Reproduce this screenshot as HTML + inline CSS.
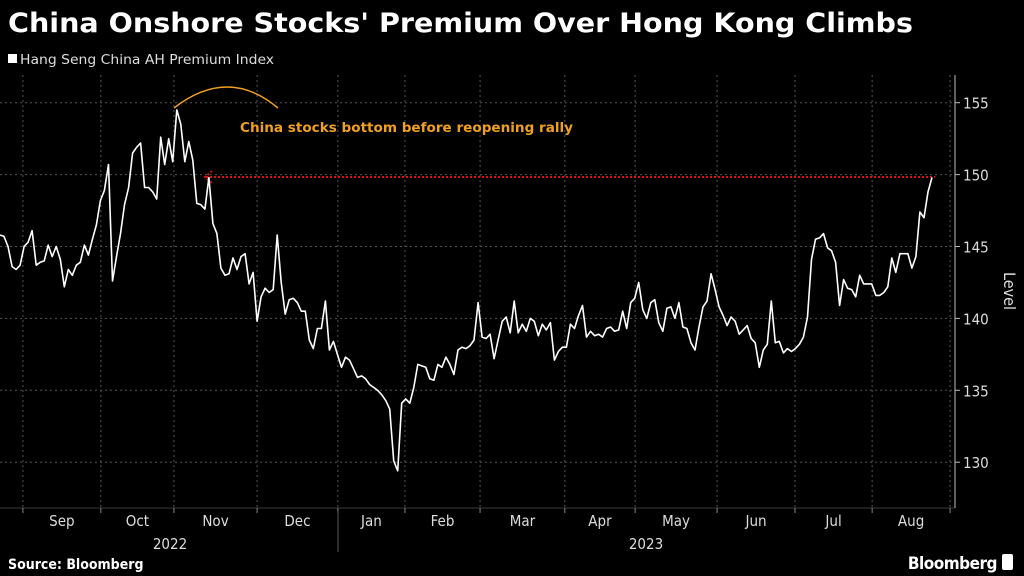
<!DOCTYPE html>
<html><head><meta charset="utf-8"><style>
html,body{margin:0;padding:0;background:#000;width:1024px;height:576px;overflow:hidden}
svg{display:block}
text{font-family:"DejaVu Sans Condensed","Liberation Sans",sans-serif}
</style></head><body>
<svg id="chart" width="1024" height="576">
<text x="8" y="32" fill="#fff" font-size="27" font-weight="bold" textLength="905" lengthAdjust="spacingAndGlyphs" font-family="DejaVu Sans, sans-serif">China Onshore Stocks' Premium Over Hong Kong Climbs</text>
<rect x="8" y="54" width="9" height="9" fill="#fff"/>
<text x="20" y="64" fill="#ddd" font-size="13" textLength="254" lengthAdjust="spacingAndGlyphs">Hang Seng China AH Premium Index</text>
<g id="grid"></g>
<line x1="955" y1="75" x2="955" y2="508" stroke="#bbb"/>
<line x1="0" y1="508" x2="955" y2="508" stroke="#777" stroke-width="0.6"/>
<g id="yticks"></g>
<text transform="translate(1004,291) rotate(90)" fill="#ddd" font-size="16" text-anchor="middle">Level</text>
<g id="xticks"></g>
<line x1="338" y1="511" x2="338" y2="552" stroke="#555"/>
<text x="170" y="549" fill="#ddd" font-size="15" text-anchor="middle">2022</text>
<text x="646" y="549" fill="#ddd" font-size="15" text-anchor="middle">2023</text>
<path d="M174,108 Q228,66 278,108" fill="none" stroke="#f0a020" stroke-width="1.5"/>
<text x="240" y="132" fill="#f0a020" font-size="13" font-weight="bold" textLength="333" lengthAdjust="spacingAndGlyphs">China stocks bottom before reopening rally</text>
<line x1="206" y1="177" x2="935" y2="177" stroke="#e01010" stroke-width="2" stroke-dasharray="2,2"/>
<path d="M212,171 L205,177 L212,183" fill="none" stroke="#e01010" stroke-width="2" stroke-dasharray="2,2"/>
<g id="series"></g>
<text x="8" y="569" fill="#fff" font-size="14" font-weight="bold">Source: Bloomberg</text>
<text x="997" y="569" fill="#fff" font-size="17" font-weight="bold" text-anchor="end" letter-spacing="-0.5">Bloomberg</text>
<rect x="1002" y="554" width="11" height="16" rx="2" fill="#fff"/>
</svg>
<script>
const values = [145.8,145.7,145.0,143.6,143.4,143.7,145.0,145.3,146.1,143.7,143.9,144.0,145.1,144.3,145.0,144.1,142.2,143.4,143.0,143.7,143.9,145.1,144.4,145.5,146.5,148.2,148.9,150.7,142.6,144.3,145.9,147.9,149.1,151.5,151.9,152.2,149.1,149.1,148.8,148.3,152.6,150.7,152.5,150.9,154.5,153.5,150.9,152.3,151.0,148.0,147.9,147.6,149.8,146.6,145.9,143.5,143.0,143.1,144.2,143.4,144.3,144.5,142.4,143.2,139.8,141.5,142.1,141.8,142.0,145.8,142.5,140.3,141.3,141.4,141.1,140.5,140.5,
138.5,137.9,139.3,139.3,141.2,137.8,138.4,137.5,136.6,137.3,137.1,136.5,135.9,136.0,135.8,135.4,135.2,135.0,134.7,134.3,133.7,130.1,129.4,134.1,134.4,134.1,135.2,136.8,136.7,136.6,135.8,135.7,136.8,136.6,137.3,136.8,136.1,137.8,138.0,137.9,138.1,138.5,141.1,138.7,138.6,138.9,137.2,138.5,139.8,140.1,139.0,141.2,139.0,139.6,139.1,140.0,139.8,138.8,139.6,139.2,139.7,137.1,137.7,138.0,138.0,139.6,139.3,140.2,140.9,138.7,139.1,138.8,138.9,138.7,139.3,139.4,139.1,139.2,140.5,139.3,
141.1,141.4,142.5,140.6,140.0,141.1,141.3,139.7,139.1,140.7,140.8,140.0,141.1,139.4,139.3,138.3,137.8,139.4,140.8,141.2,143.1,142.0,140.8,140.2,139.5,140.1,139.8,138.9,139.2,139.5,138.6,138.3,136.6,137.8,138.2,141.2,138.3,138.4,137.6,137.9,137.7,137.9,138.2,138.7,140.1,144.1,145.5,145.6,145.9,144.9,144.7,143.9,140.9,142.7,142.1,142.0,141.5,143.0,142.4,142.4,142.4,141.6,141.6,141.8,142.2,144.2,143.2,144.5,144.5,144.5,143.5,144.3,147.4,147.0,148.8,149.8];
const yTicks = [130,135,140,145,150,155];
const monthLabels = ["Sep","Oct","Nov","Dec","Jan","Feb","Mar","Apr","May","Jun","Jul","Aug"];
const monthStartIdx = [5.7,25.1,43.3,64.0,84.1,100.8,119.5,140.6,158.1,178.5,197.9,217.1,236.5];

const NS="http://www.w3.org/2000/svg";
const X0=0, X1=932, Y155=102.7, PXU=14.38;
const n=values.length;
function xs(i){return X0+(X1-X0)*i/(n-1);}
function ys(v){return Y155+(155-v)*PXU;}
function mk(tag,attrs,parent){const e=document.createElementNS(NS,tag);for(const k in attrs)e.setAttribute(k,attrs[k]);parent.appendChild(e);return e;}
const grid=document.getElementById('grid'), yt=document.getElementById('yticks'), xt=document.getElementById('xticks'), ser=document.getElementById('series');
yTicks.forEach(v=>{
  const y=ys(v);
  const g=mk('line',{x1:0,x2:955,y1:y,y2:y,stroke:'#555','stroke-dasharray':'2,3','stroke-width':1},grid);
  
  
  const t=mk('line',{x1:955,x2:960,y1:y,y2:y,stroke:'#bbb'},yt);
  
  
  const l=mk('text',{x:963,y:y+6,fill:'#ddd','font-size':15},yt);
  l.textContent=v;
  
  
});
monthStartIdx.forEach((idx,k)=>{
  const x=xs(idx);
  if(x<955){
    const g=mk('line',{x1:x,x2:x,y1:75,y2:508,stroke:'#555','stroke-dasharray':'2,3'},grid);
    
    
    const t=mk('line',{x1:x,x2:x,y1:508,y2:513,stroke:'#888'},xt);
    
    
  }
  if(k<monthLabels.length){
    const xm=(xs(idx)+xs(monthStartIdx[k+1]))/2;
    const l=mk('text',{x:xm,y:526,fill:'#ddd','font-size':15,'text-anchor':'middle'},xt);
    l.textContent=monthLabels[k];
    
    
  }
});
const d=values.map((v,i)=>(i?'L':'M')+xs(i).toFixed(1)+','+ys(v).toFixed(1)).join(' ');
const p=mk('path',{d:d,fill:'none',stroke:'#fff','stroke-width':1.6,'stroke-linejoin':'round'},ser);


</script>
</body></html>
